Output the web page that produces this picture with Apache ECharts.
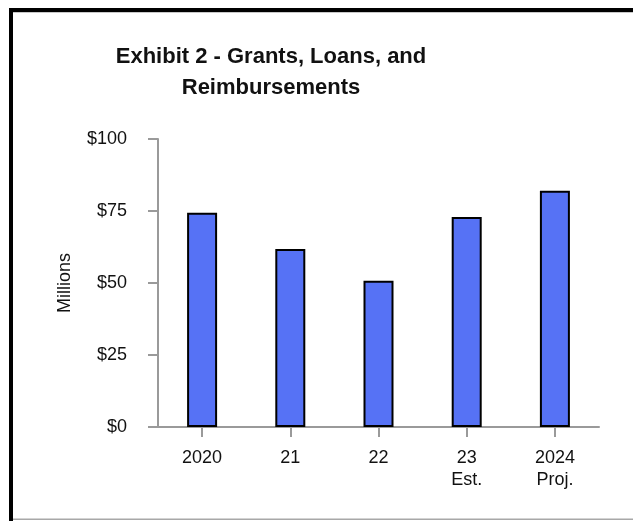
<!DOCTYPE html>
<html>
<head>
<meta charset="utf-8">
<script src="https://cdn.jsdelivr.net/npm/echarts@6/dist/echarts.min.js"></script>
<style>
html,body{margin:0;padding:0;background:#fff;}
#chart{width:633px;height:521px;}
</style>
</head>
<body>
<div id="chart"></div>
<script>
var titleText = 'Exhibit 2 - Grants, Loans, and\nReimbursements';
var categories = ['2020', '21', '22', '23\nEst.', '2024\nProj.'];
var values = [74.4, 61.8, 50.8, 72.9, 82.0];
var yTicks = [0, 25, 50, 75, 100];
var yAxisName = 'Millions';

var chart = echarts.init(document.getElementById('chart'), null, {renderer: 'canvas'});
var axisGray = '#9a9a9a';
var font = 'Liberation Sans, Arial, Helvetica, sans-serif';

chart.setOption({
  backgroundColor: '#ffffff',
  animation: false,
  title: {
    text: titleText,
    left: 271,
    textAlign: 'center',
    top: 41,
    padding: 0,
    textStyle: {
      fontFamily: font,
      fontWeight: 'bold',
      fontSize: 22,
      lineHeight: 31,
      color: '#111'
    }
  },
  grid: {left: 158, right: 34, top: 139, bottom: 94},
  xAxis: {
    type: 'category',
    data: categories,
    axisLine: {show: true, lineStyle: {color: axisGray, width: 2}},
    axisTick: {show: true, alignWithLabel: true, length: 10, lineStyle: {color: axisGray, width: 2}},
    axisLabel: {
      margin: 20,
      fontFamily: font,
      fontSize: 18,
      lineHeight: 22,
      color: '#111',
      verticalAlign: 'top'
    },
    splitLine: {show: false}
  },
  yAxis: {
    type: 'value',
    min: yTicks[0],
    max: yTicks[yTicks.length - 1],
    interval: 25,
    name: yAxisName,
    nameLocation: 'middle',
    nameRotate: 90,
    nameGap: 84,
    nameTextStyle: {fontFamily: font, fontSize: 18, color: '#111'},
    axisLine: {show: true, lineStyle: {color: axisGray, width: 2}},
    axisTick: {show: true, length: 10, lineStyle: {color: axisGray, width: 2}},
    axisLabel: {
      margin: 31,
      fontFamily: font,
      fontSize: 18,
      color: '#111',
      padding: [5, 0, 0, 0],
      formatter: function (v) { return '$' + v; }
    },
    splitLine: {show: false}
  },
  series: [{
    type: 'bar',
    data: values,
    barWidth: 30,
    itemStyle: {color: '#5672F5', borderColor: '#000', borderWidth: 2}
  }],
  graphic: [
    {type: 'rect', shape: {x: 9, y: 8, width: 4, height: 513}, style: {fill: '#000'}, z: 100},
    {type: 'rect', shape: {x: 9, y: 8, width: 624, height: 4}, style: {fill: '#000'}, z: 100},
    {type: 'rect', shape: {x: 13, y: 12, width: 620, height: 1}, style: {fill: '#c8c8c8'}, z: 100},
    {type: 'rect', shape: {x: 13, y: 518.5, width: 620, height: 1.5}, style: {fill: '#a8a8a8'}, z: 100}
  ]
});
</script>
</body>
</html>
